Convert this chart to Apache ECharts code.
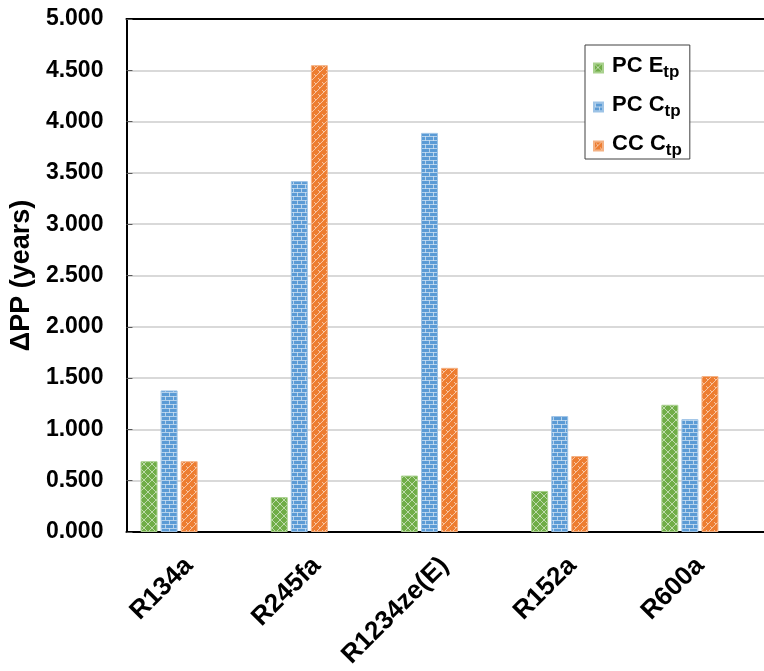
<!DOCTYPE html>
<html>
<head>
<meta charset="utf-8">
<script src="https://cdn.jsdelivr.net/npm/echarts@6/dist/echarts.min.js"></script>
<style>
  html, body { margin: 0; padding: 0; background: #fff; }
  #chart { width: 764px; height: 671px; }
</style>
</head>
<body>
<div id="chart"></div>
<script>
// Refrigerants compared
const categories = ['R134a', 'R245fa', 'R1234ze(E)', 'R152a', 'R600a'];
// ΔPP values (years) for each configuration
const pcEtp = [0.69, 0.34, 0.55, 0.40, 1.24];
const pcCtp = [1.38, 3.42, 3.89, 1.13, 1.10];
const ccCtp = [0.69, 4.55, 1.60, 0.74, 1.52];
// Series labels (main part; "tp" is drawn as a subscript)
const seriesNames = ['PC E', 'PC C', 'CC C'];
// Value axis range
const yMin = 0, yMax = 5, yStep = 0.5;

const FONT = 'Arial, "Liberation Sans", sans-serif';

// Small repeating textures for the bar fills
function makePattern(base, draw) {
  const c = document.createElement('canvas');
  c.width = 8; c.height = 8;
  const g = c.getContext('2d');
  g.fillStyle = base;
  g.fillRect(0, 0, 8, 8);
  g.strokeStyle = 'rgba(255,255,255,0.55)';
  g.lineWidth = 1;
  g.beginPath();
  draw(g);
  g.stroke();
  return c;
}
const greenFill = makePattern('#70AD47', g => {
  g.moveTo(0, 0); g.lineTo(8, 8);
  g.moveTo(8, 0); g.lineTo(0, 8);
});
const blueFill = makePattern('#5B9BD5', g => {
  g.moveTo(0, 0.5); g.lineTo(8, 0.5);
  g.moveTo(0, 4.5); g.lineTo(8, 4.5);
  g.moveTo(1.5, 0.5); g.lineTo(1.5, 4.5);
  g.moveTo(5.5, 4.5); g.lineTo(5.5, 8);
});
const orangeFill = makePattern('#ED7D31', g => {
  g.moveTo(0, 8); g.lineTo(8, 0);
  g.moveTo(2, 2); g.lineTo(4, 4);
  g.moveTo(6, 6); g.lineTo(8, 8);
});

const fills = [greenFill, blueFill, orangeFill];
const edges = ['#A9D18E', '#9DC3E6', '#F4B183'];
const values = [pcEtp, pcCtp, ccCtp];

const chart = echarts.init(document.getElementById('chart'), null, { renderer: 'canvas' });

const series = seriesNames.map((name, i) => ({
  name: name,
  type: 'bar',
  xAxisIndex: 2,
  yAxisIndex: 1,
  data: values[i],
  barWidth: 17,
  barGap: '18%',
  itemStyle: {
    color: { image: fills[i], repeat: 'repeat' },
    borderColor: edges[i],
    borderWidth: 1
  }
}));

chart.setOption({
  animation: false,
  backgroundColor: '#fff',
  textStyle: { fontFamily: FONT },
  grid: [
    // plot frame with value axis and gridlines
    { left: 123, right: -20, top: 19, bottom: 139 },
    // bar area
    { left: 104, width: 651, top: 19, bottom: 139 },
    // category labels, set slightly right of the bar groups
    { left: 125, width: 651, top: 19, bottom: 139 }
  ],
  xAxis: [
    {
      gridIndex: 0, type: 'category', data: categories, position: 'bottom',
      axisLine: { lineStyle: { color: '#000', width: 2 } },
      axisTick: { show: false }, axisLabel: { show: false }
    },
    {
      gridIndex: 0, type: 'category', data: categories, position: 'top',
      axisLine: { show: true, lineStyle: { color: '#000', width: 2 } },
      axisTick: { show: false }, axisLabel: { show: false }
    },
    {
      gridIndex: 1, type: 'category', data: categories,
      axisLine: { show: false }, axisTick: { show: false }, axisLabel: { show: false }
    },
    {
      gridIndex: 2, type: 'category', data: categories,
      axisLine: { show: false }, axisTick: { show: false },
      axisLabel: {
        interval: 0, rotate: 45, margin: 39,
        fontSize: 26, fontWeight: 'bold', color: '#000', fontFamily: FONT
      }
    }
  ],
  yAxis: [
    {
      gridIndex: 0, type: 'value', min: yMin, max: yMax, interval: yStep,
      axisLine: { show: true, lineStyle: { color: '#000', width: 2 } },
      axisTick: { show: true, inside: true, length: 6, lineStyle: { color: '#595959', width: 1 } },
      splitLine: { lineStyle: { color: '#D9D9D9', width: 2 } },
      axisLabel: {
        formatter: v => v.toFixed(3),
        fontSize: 23, fontWeight: 'bold', color: '#000', margin: 23, fontFamily: FONT
      },
      name: 'ΔPP (years)',
      nameLocation: 'middle',
      nameGap: 85,
      nameTextStyle: { fontSize: 27, fontWeight: 'bold', color: '#000', fontFamily: FONT }
    },
    { gridIndex: 1, type: 'value', min: yMin, max: yMax, interval: yStep, show: false },
    { gridIndex: 2, type: 'value', min: yMin, max: yMax, interval: yStep, show: false }
  ],
  legend: {
    orient: 'vertical',
    left: 585, top: 45,
    data: seriesNames,
    icon: 'rect',
    itemWidth: 9, itemHeight: 9,
    itemGap: 13,
    padding: [10, 8, 0, 8],
    borderColor: '#404040', borderWidth: 1,
    backgroundColor: '#fff',
    formatter: name => `{m|${name}}{s|tp}`,
    textStyle: {
      fontFamily: FONT,
      padding: [0, 0, 0, 4],
      rich: {
        m: { fontSize: 22, fontWeight: 'bold', color: '#000', verticalAlign: 'top', lineHeight: 26, fontFamily: FONT },
        s: { fontSize: 17, fontWeight: 'bold', color: '#000', verticalAlign: 'bottom', lineHeight: 26, fontFamily: FONT }
      }
    }
  },
  series: series
});
</script>
</body>
</html>
